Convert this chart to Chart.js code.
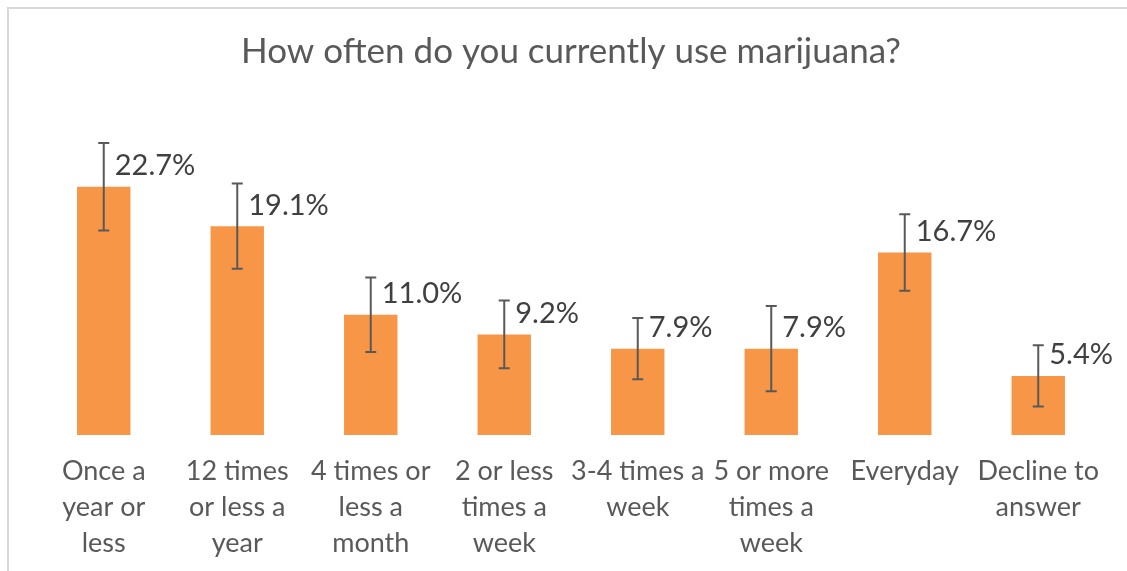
<!DOCTYPE html>
<html>
<head>
<meta charset="utf-8">
<title>How often do you currently use marijuana?</title>
<script src="https://cdn.jsdelivr.net/npm/chart.js@4"></script>
<style>
  html, body { margin: 0; padding: 0; background: #fff; overflow: hidden; }
  #wrap { position: relative; width: 1127px; height: 571px; overflow: hidden; }
  #frame {
    position: absolute; left: 7px; top: 7px; width: 1200px; height: 700px;
    border: 2px solid #d9d9d9; box-sizing: border-box;
  }
  canvas { position: absolute; left: 0; top: 0; }
</style>
</head>
<body>
<div id="wrap">
  <div id="frame"></div>
  <canvas id="usage-chart" width="1127" height="579"></canvas>
</div>
<script>
// Survey answers (percent of respondents)
const categories = [
  ["Once a", "year or", "less"],
  ["12 times", "or less a", "year"],
  ["4 times or", "less a", "month"],
  ["2 or less", "times a", "week"],
  ["3-4 times a", "week"],
  ["5 or more", "times a", "week"],
  ["Everyday"],
  ["Decline to", "answer"]
];
const shares = [22.7, 19.1, 11.0, 9.2, 7.9, 7.9, 16.7, 5.4];
const errors = [4.0, 3.9, 3.4, 3.1, 2.8, 3.9, 3.5, 2.8];

const textColor = "#595959";
const fontFamily = "Lato, 'Open Sans', sans-serif";

// Draw error bars and value labels on top of the bars
const errorBarsPlugin = {
  id: "errorBars",
  afterDatasetsDraw(chart) {
    const ctx = chart.ctx;
    const meta = chart.getDatasetMeta(0);
    const y = chart.scales.y;

    ctx.save();
    meta.data.forEach((bar, i) => {
      const x = bar.x;
      const top = y.getPixelForValue(shares[i] + errors[i]);
      const bottom = y.getPixelForValue(shares[i] - errors[i]);

      ctx.strokeStyle = "#595959";
      ctx.lineWidth = 2;
      ctx.beginPath();
      ctx.moveTo(x, top);
      ctx.lineTo(x, bottom);
      ctx.moveTo(x - 5.5, top);
      ctx.lineTo(x + 5.5, top);
      ctx.moveTo(x - 5.5, bottom);
      ctx.lineTo(x + 5.5, bottom);
      ctx.stroke();

      // value label
      ctx.fillStyle = "#404040";
      ctx.font = "29px " + fontFamily;
      ctx.textAlign = "left";
      ctx.textBaseline = "middle";
      ctx.fillText(shares[i].toFixed(1) + "%", x + 11, bar.y - 21);
    });
    ctx.restore();
  }
};

const usageChart = new Chart(document.getElementById("usage-chart"), {
  type: "bar",
  data: {
    labels: categories,
    datasets: [
      {
        data: shares,
        backgroundColor: "#f79646",
        borderWidth: 0,
        categoryPercentage: 0.4,
        barPercentage: 1.0
      }
    ]
  },
  options: {
    responsive: false,
    animation: false,
    layout: {
      padding: { left: 37, right: 22, top: 0, bottom: 0 }
    },
    plugins: {
      legend: { display: false },
      tooltip: { enabled: false },
      title: {
        display: true,
        text: "How often do you currently use marijuana?",
        color: textColor,
        font: { family: fontFamily, size: 35, weight: "normal" },
        padding: { top: 31, bottom: 34 }
      }
    },
    scales: {
      x: {
        grid: { display: false, drawTicks: false },
        border: { display: false },
        ticks: {
          color: textColor,
          font: { family: fontFamily, size: 27, lineHeight: 1.333 },
          padding: 18,
          maxRotation: 0,
          autoSkip: false
        }
      },
      y: {
        display: false,
        min: 0,
        max: 30
      }
    }
  },
  plugins: [errorBarsPlugin]
});
</script>
</body>
</html>
